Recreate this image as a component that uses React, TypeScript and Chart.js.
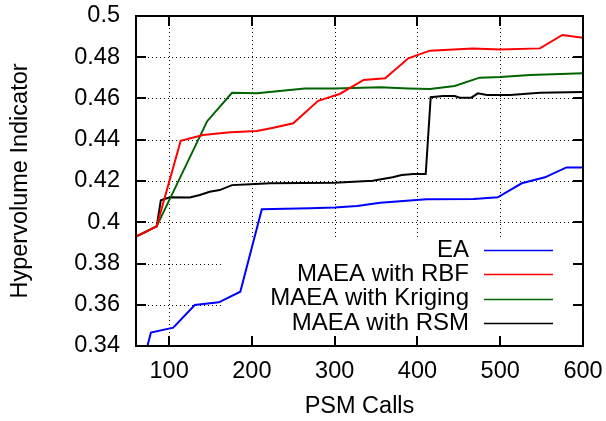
import React, { useEffect, useRef } from 'react';
import { Chart, registerables } from 'chart.js';

Chart.register(...registerables);

const FONT = '"Liberation Sans", Arial, Helvetica, sans-serif';
const FONT_SIZE = 23.5;
const KEY_FONT_SIZE = 24;

// Axis ranges and tick values
const xRange = [60, 600];
const yRange = [0.34, 0.5];
const xTickValues = [100, 200, 300, 400, 500, 600];
const yTickValues = [0.34, 0.36, 0.38, 0.4, 0.42, 0.44, 0.46, 0.48, 0.5];

const seriesNames = ['EA', 'MAEA with RBF', 'MAEA with Kriging', 'MAEA with RSM'];
const seriesColors = ['#0000ff', '#ff0000', '#006400', '#000000'];

// EA
const eaCalls = [70, 78, 105, 131, 160, 186, 212, 270, 300, 327, 355, 411, 468, 497, 526, 554, 580, 600];
const eaHv = [0.334, 0.3465, 0.3489, 0.3599, 0.3612, 0.3663, 0.4063, 0.4068, 0.4072, 0.4079, 0.4095, 0.4111, 0.4113, 0.4121, 0.4189, 0.4218, 0.4266, 0.4266];

// MAEA with RBF
const rbfCalls = [60, 85, 114, 141, 174, 206, 226, 250, 280, 306, 335, 361, 389, 415, 467, 500, 548, 575, 600];
const rbfHv = [0.393, 0.398, 0.4395, 0.4423, 0.4436, 0.4442, 0.4458, 0.448, 0.4589, 0.4622, 0.469, 0.4698, 0.4795, 0.4832, 0.4843, 0.4838, 0.4843, 0.4908, 0.4895];

// MAEA with Kriging
const krigingCalls = [60, 85, 146, 176, 206, 264, 300, 355, 389, 415, 445, 475, 500, 536, 600];
const krigingHv = [0.393, 0.398, 0.449, 0.4628, 0.4625, 0.4649, 0.4649, 0.4654, 0.4649, 0.4646, 0.4661, 0.4701, 0.4704, 0.4714, 0.4722];

// MAEA with RSM
const rsmCalls = [60, 85, 90, 101, 125, 137, 149, 161, 176, 198, 222, 300, 346, 370, 381, 395, 410, 416, 431, 445, 451, 465, 473, 484, 512, 548, 600];
const rsmHv = [0.393, 0.398, 0.4107, 0.4121, 0.412, 0.4132, 0.4148, 0.4156, 0.418, 0.4184, 0.4189, 0.4192, 0.4201, 0.4218, 0.4229, 0.4234, 0.4234, 0.4606, 0.4612, 0.4612, 0.4604, 0.4604, 0.4625, 0.4617, 0.4617, 0.4628, 0.4632];

const seriesCalls = [eaCalls, rbfCalls, krigingCalls, rsmCalls];
const seriesHv = [eaHv, rbfHv, krigingHv, rsmHv];

const fmt = (v: number) => String(Number(v.toFixed(2)));

// Key placement, measured from the plot area's bottom-right corner
const legendBox = (a: any) => ({
  l: a.left + 86,
  r: a.right,
  t: a.bottom - 108,
  b: a.bottom,
});

const framePlugin = {
  id: 'gnuplotFrame',
  beforeDatasetsDraw(chart: any) {
    const { ctx, chartArea: a, scales } = chart;
    const xs = scales.x;
    const ys = scales.y;
    const box = legendBox(a);
    ctx.save();
    ctx.strokeStyle = '#000';
    ctx.lineWidth = 1;
    ctx.setLineDash([1, 3]);
    for (const v of xTickValues) {
      if (v <= xRange[0] || v >= xRange[1]) continue;
      const px = Math.round(xs.getPixelForValue(v)) + 0.5;
      const inBox = px > box.l && px < box.r;
      ctx.beginPath();
      ctx.moveTo(px, a.top);
      ctx.lineTo(px, inBox ? box.t : a.bottom);
      ctx.stroke();
    }
    for (const v of yTickValues) {
      if (v <= yRange[0] + 1e-9 || v >= yRange[1] - 1e-9) continue;
      const py = Math.round(ys.getPixelForValue(v)) + 0.5;
      const inBox = py > box.t && py < box.b;
      ctx.beginPath();
      ctx.moveTo(a.left, py);
      ctx.lineTo(inBox ? box.l : a.right, py);
      ctx.stroke();
    }
    ctx.restore();
  },
  afterDatasetsDraw(chart: any) {
    const { ctx, chartArea: a, scales } = chart;
    const xs = scales.x;
    const ys = scales.y;
    const tick = 10;
    ctx.save();
    ctx.strokeStyle = '#000';
    ctx.lineWidth = 2;
    ctx.setLineDash([]);
    for (const v of xTickValues) {
      const px = Math.round(xs.getPixelForValue(v));
      ctx.beginPath();
      ctx.moveTo(px, a.bottom);
      ctx.lineTo(px, a.bottom - tick);
      ctx.moveTo(px, a.top);
      ctx.lineTo(px, a.top + tick);
      ctx.stroke();
    }
    for (const v of yTickValues) {
      const py = Math.round(ys.getPixelForValue(v));
      ctx.beginPath();
      ctx.moveTo(a.left, py);
      ctx.lineTo(a.left + tick, py);
      ctx.moveTo(a.right, py);
      ctx.lineTo(a.right - tick, py);
      ctx.stroke();
    }
    ctx.strokeRect(a.left, a.top, a.right - a.left, a.bottom - a.top);
    ctx.restore();
  },
  afterDraw(chart: any) {
    const { ctx, chartArea: a } = chart;
    const textRight = a.right - 114;
    const lineStart = a.right - 99;
    const lineEnd = a.right - 30;
    const rowY0 = a.bottom - 96;
    const rowStep = 24.4;
    ctx.save();
    ctx.font = `${KEY_FONT_SIZE}px ${FONT}`;
    ctx.textAlign = 'right';
    ctx.textBaseline = 'middle';
    seriesNames.forEach((name, i) => {
      const y = rowY0 + i * rowStep;
      ctx.fillStyle = '#000';
      ctx.fillText(name, textRight, y);
      ctx.strokeStyle = seriesColors[i];
      ctx.lineWidth = 1.5;
      ctx.beginPath();
      ctx.moveTo(lineStart, Math.round(y) + 0.5);
      ctx.lineTo(lineEnd, Math.round(y) + 0.5);
      ctx.stroke();
    });
    ctx.restore();
  },
};

export default function App() {
  const canvasRef = useRef<HTMLCanvasElement | null>(null);

  useEffect(() => {
    const canvas = canvasRef.current;
    if (!canvas) return;
    const datasets = seriesNames.map((name, i) => ({
      label: name,
      data: seriesCalls[i].map((c, j) => ({ x: c, y: seriesHv[i][j] })),
      borderColor: seriesColors[i],
      backgroundColor: seriesColors[i],
      borderWidth: 2,
      pointRadius: 0,
      tension: 0,
      fill: false,
    }));

    const chart = new Chart(canvas, {
      type: 'line',
      data: { datasets },
      options: {
        animation: false,
        responsive: false,
        devicePixelRatio: 1,
        events: [],
        layout: { padding: { left: 0, top: 16, right: 23, bottom: 0 } },
        plugins: {
          legend: { display: false },
          tooltip: { enabled: false },
        },
        scales: {
          x: {
            type: 'linear',
            min: xRange[0],
            max: xRange[1],
            afterFit: (s: any) => {
              s.height = 75;
              s.paddingLeft = 0;
              s.paddingRight = 0;
              s.paddingTop = 0;
              s.paddingBottom = 0;
            },
            afterBuildTicks: (s: any) => {
              s.ticks = xTickValues.map((v) => ({ value: v }));
            },
            grid: { display: false, drawTicks: false },
            border: { display: false },
            ticks: {
              padding: 11,
              color: '#000',
              font: { family: FONT, size: FONT_SIZE },
              maxRotation: 0,
              autoSkip: false,
              callback: (v: any) => String(v),
            },
            title: {
              display: true,
              text: 'PSM Calls',
              color: '#000',
              font: { family: FONT, size: FONT_SIZE },
              padding: { top: 0, bottom: 0 },
            },
          },
          y: {
            type: 'linear',
            min: yRange[0],
            max: yRange[1],
            afterFit: (s: any) => {
              s.width = 136;
              s.paddingLeft = 0;
              s.paddingRight = 0;
              s.paddingTop = 0;
              s.paddingBottom = 0;
            },
            afterBuildTicks: (s: any) => {
              s.ticks = yTickValues.map((v) => ({ value: v }));
            },
            grid: { display: false, drawTicks: false },
            border: { display: false },
            ticks: {
              padding: 16,
              color: '#000',
              font: { family: FONT, size: FONT_SIZE },
              autoSkip: false,
              callback: (v: any) => fmt(Number(v)),
            },
            title: {
              display: true,
              text: 'Hypervolume Indicator',
              color: '#000',
              font: { family: FONT, size: FONT_SIZE },
              padding: { top: 6, bottom: 0 },
            },
          },
        },
      },
      plugins: [framePlugin],
    } as any);

    return () => chart.destroy();
  }, []);

  return (
    <div style={{ position: 'fixed', left: 0, top: 0, width: 606, height: 421, background: '#fff' }}>
      <canvas ref={canvasRef} width={606} height={421} style={{ display: 'block' }} />
    </div>
  );
}
